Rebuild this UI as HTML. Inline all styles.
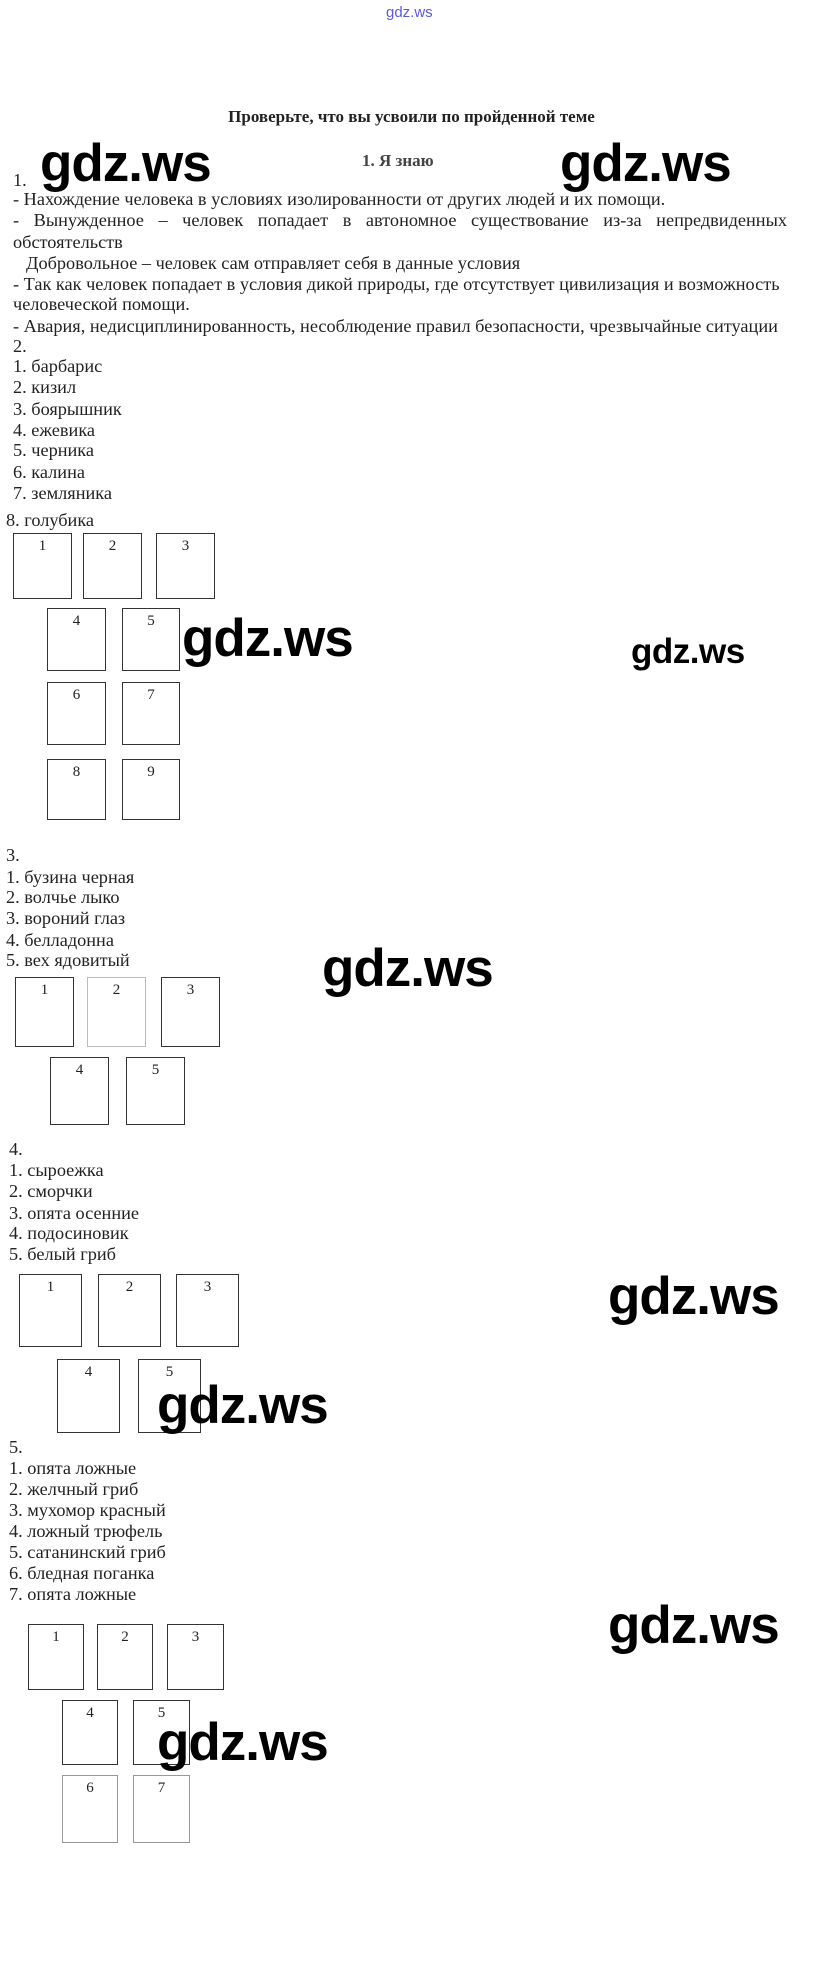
<!DOCTYPE html>
<html><head><meta charset="utf-8"><style>
body{margin:0;width:823px;height:1963px;background:#fff;position:relative;overflow:hidden;font-family:"Liberation Serif","DejaVu Serif",serif;color:#222}
.t{position:absolute;font-size:18.3px;line-height:21px;white-space:nowrap}
.b{position:absolute;border:1.5px solid #333;box-sizing:border-box;text-align:center;font-size:15px;padding-top:4px}
.w{position:absolute;font-family:"Liberation Sans","DejaVu Sans",sans-serif;font-weight:bold;font-size:53px;line-height:1;color:#000;white-space:nowrap;letter-spacing:-1px}
</style></head><body>
<div class="t" style="left:386px;top:2px;color:#5a5ae0;font-family:'Liberation Sans',sans-serif;font-size:15px">gdz.ws</div>
<div class="t" style="left:0;width:823px;text-align:center;top:106px;font-weight:bold;font-size:17px">Проверьте, что вы усвоили по пройденной теме</div>
<div class="t" style="left:362px;top:150px;font-weight:bold;color:#444;font-size:17px">1. Я знаю</div>
<div class="t" style="left:13px;top:170px">1.</div>
<div class="t" style="left:13px;top:189px">- Нахождение человека в условиях изолированности от других людей и их помощи.</div>
<div class="t" style="left:13px;top:210px;width:774px;text-align:justify;text-align-last:justify;white-space:normal">- Вынужденное – человек попадает в автономное существование из-за непредвиденных</div>
<div class="t" style="left:13px;top:232px">обстоятельств</div>
<div class="t" style="left:26px;top:253px">Добровольное – человек сам отправляет себя в данные условия</div>
<div class="t" style="left:13px;top:274px">- Так как человек попадает в условия дикой природы, где отсутствует цивилизация и возможность</div>
<div class="t" style="left:13px;top:294px">человеческой помощи.</div>
<div class="t" style="left:13px;top:316px">- Авария, недисциплинированность, несоблюдение правил безопасности, чрезвычайные ситуации</div>
<div class="t" style="left:13px;top:336px">2.</div>
<div class="t" style="left:13px;top:356px">1. барбарис</div>
<div class="t" style="left:13px;top:377px">2. кизил</div>
<div class="t" style="left:13px;top:399px">3. боярышник</div>
<div class="t" style="left:13px;top:420px">4. ежевика</div>
<div class="t" style="left:13px;top:440px">5. черника</div>
<div class="t" style="left:13px;top:462px">6. калина</div>
<div class="t" style="left:13px;top:483px">7. земляника</div>
<div class="t" style="left:6px;top:510px">8. голубика</div>

<div class="b" style="left:13px;top:533px;width:59px;height:66px">1</div>
<div class="b" style="left:83px;top:533px;width:59px;height:66px">2</div>
<div class="b" style="left:156px;top:533px;width:59px;height:66px">3</div>
<div class="b" style="left:47px;top:608px;width:59px;height:63px">4</div>
<div class="b" style="left:122px;top:608px;width:58px;height:63px">5</div>
<div class="b" style="left:47px;top:682px;width:59px;height:63px">6</div>
<div class="b" style="left:122px;top:682px;width:58px;height:63px">7</div>
<div class="b" style="left:47px;top:759px;width:59px;height:61px">8</div>
<div class="b" style="left:122px;top:759px;width:58px;height:61px">9</div>

<div class="t" style="left:6px;top:845px">3.</div>
<div class="t" style="left:6px;top:867px">1. бузина черная</div>
<div class="t" style="left:6px;top:887px">2. волчье лыко</div>
<div class="t" style="left:6px;top:908px">3. вороний глаз</div>
<div class="t" style="left:6px;top:930px">4. белладонна</div>
<div class="t" style="left:6px;top:950px">5. вех ядовитый</div>
<div class="b" style="left:15px;top:977px;width:59px;height:70px">1</div>
<div class="b" style="left:87px;top:977px;width:59px;height:70px;border-color:#bbb">2</div>
<div class="b" style="left:161px;top:977px;width:59px;height:70px">3</div>
<div class="b" style="left:50px;top:1057px;width:59px;height:68px">4</div>
<div class="b" style="left:126px;top:1057px;width:59px;height:68px">5</div>

<div class="t" style="left:9px;top:1139px">4.</div>
<div class="t" style="left:9px;top:1160px">1. сыроежка</div>
<div class="t" style="left:9px;top:1181px">2. сморчки</div>
<div class="t" style="left:9px;top:1203px">3. опята осенние</div>
<div class="t" style="left:9px;top:1223px">4. подосиновик</div>
<div class="t" style="left:9px;top:1244px">5. белый гриб</div>
<div class="b" style="left:19px;top:1274px;width:63px;height:73px">1</div>
<div class="b" style="left:98px;top:1274px;width:63px;height:73px">2</div>
<div class="b" style="left:176px;top:1274px;width:63px;height:73px">3</div>
<div class="b" style="left:57px;top:1359px;width:63px;height:74px">4</div>
<div class="b" style="left:138px;top:1359px;width:63px;height:74px">5</div>

<div class="t" style="left:9px;top:1437px">5.</div>
<div class="t" style="left:9px;top:1458px">1. опята ложные</div>
<div class="t" style="left:9px;top:1479px">2. желчный гриб</div>
<div class="t" style="left:9px;top:1500px">3. мухомор красный</div>
<div class="t" style="left:9px;top:1521px">4. ложный трюфель</div>
<div class="t" style="left:9px;top:1542px">5. сатанинский гриб</div>
<div class="t" style="left:9px;top:1563px">6. бледная поганка</div>
<div class="t" style="left:9px;top:1584px">7. опята ложные</div>
<div class="b" style="left:28px;top:1624px;width:56px;height:66px">1</div>
<div class="b" style="left:97px;top:1624px;width:56px;height:66px">2</div>
<div class="b" style="left:167px;top:1624px;width:57px;height:66px">3</div>
<div class="b" style="left:62px;top:1700px;width:56px;height:65px">4</div>
<div class="b" style="left:133px;top:1700px;width:57px;height:65px">5</div>
<div class="b" style="left:62px;top:1775px;width:56px;height:68px;border-color:#999">6</div>
<div class="b" style="left:133px;top:1775px;width:57px;height:68px;border-color:#999">7</div>

<div class="w" style="left:40px;top:137px">gdz.ws</div>
<div class="w" style="left:560px;top:137px">gdz.ws</div>
<div class="w" style="left:182px;top:612px">gdz.ws</div>
<div class="w" style="left:631px;top:634px;font-size:35px;letter-spacing:-0.5px">gdz.ws</div>
<div class="w" style="left:322px;top:942px">gdz.ws</div>
<div class="w" style="left:608px;top:1270px">gdz.ws</div>
<div class="w" style="left:157px;top:1379px">gdz.ws</div>
<div class="w" style="left:608px;top:1599px">gdz.ws</div>
<div class="w" style="left:157px;top:1716px">gdz.ws</div>
</body></html>
